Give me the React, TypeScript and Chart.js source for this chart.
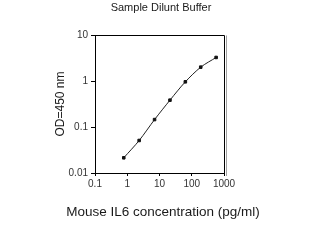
import React, { useEffect, useRef } from "react";
import { Chart, registerables } from "chart.js";

Chart.register(...registerables);

const concentrations = [0.78, 2.34, 7.03, 21.1, 63.3, 190, 570];
const odValues = [0.0214, 0.0509, 0.145, 0.383, 0.96, 2.0, 3.25];
const xTickValues = [0.1, 1, 10, 100, 1000];
const yTickValues = [0.01, 0.1, 1, 10];
const chartTitle = "Sample Dilunt Buffer";
const xTitle = "Mouse IL6 concentration (pg/ml)";
const yTitle = "OD=450 nm";

const FONT = "'Liberation Sans', Arial, sans-serif";

const decorPlugin = {
  id: "decor",
  afterDraw(chart: any) {
    const { ctx, chartArea } = chart;
    const { left, right, top, bottom } = chartArea;
    ctx.save();
    ctx.strokeStyle = "#000";
    ctx.lineWidth = 1;
    ctx.beginPath();
    ctx.moveTo(left + 0.5, top + 0.5);
    ctx.lineTo(right + 0.5, top + 0.5);
    ctx.moveTo(right + 0.5, top + 0.5);
    ctx.lineTo(right + 0.5, bottom + 3);
    ctx.stroke();
    ctx.strokeStyle = "#a0a0a0";
    ctx.beginPath();
    ctx.moveTo(right + 2.5, top + 0.5);
    ctx.lineTo(right + 2.5, bottom + 3);
    ctx.stroke();
    ctx.fillStyle = "#1a1a1a";
    ctx.textAlign = "center";
    ctx.textBaseline = "middle";
    ctx.font = `11px ${FONT}`;
    ctx.fillText(chartTitle, 161, 8);
    ctx.font = `13.5px ${FONT}`;
    ctx.fillText(xTitle, 163, 212);
    ctx.translate(61, 104);
    ctx.rotate(-Math.PI / 2);
    ctx.font = `12px ${FONT}`;
    ctx.fillText(yTitle, 0, 0);
    ctx.restore();
  },
};

export default function App() {
  const ref = useRef<HTMLCanvasElement>(null);
  useEffect(() => {
    if (!ref.current) return;
    const chart = new Chart(ref.current, {
      type: "scatter",
      data: {
        datasets: [
          {
            data: concentrations.map((x, i) => ({ x, y: odValues[i] })),
            showLine: true,
            tension: 0.3,
            borderColor: "#222",
            borderWidth: 1,
            backgroundColor: "#111",
            pointBackgroundColor: "#111",
            pointBorderColor: "#111",
            pointRadius: 1.8,
            pointStyle: "rect",
          },
        ],
      },
      options: {
        responsive: false,
        animation: false,
        layout: { padding: { left: 0, right: 91, top: 35, bottom: 0 } },
        plugins: { legend: { display: false }, tooltip: { enabled: false }, title: { display: false } },
        scales: {
          x: {
            type: "logarithmic",
            min: 0.1,
            max: 1000,
            afterBuildTicks: (s: any) => {
              s.ticks = xTickValues.map((v) => ({ value: v }));
            },
            afterFit: (s: any) => {
              s.height = 73;
            },
            ticks: {
              autoSkip: false,
              maxRotation: 0,
              padding: 2,
              color: "#333",
              font: { family: FONT, size: 10 },
              callback: (v: any) => String(v),
            },
            grid: { drawOnChartArea: false, drawTicks: true, tickLength: 3, color: "#000" },
            border: { display: true, color: "#000", width: 1 },
          },
          y: {
            type: "logarithmic",
            min: 0.01,
            max: 10,
            afterBuildTicks: (s: any) => {
              s.ticks = yTickValues.map((v) => ({ value: v }));
            },
            afterFit: (s: any) => {
              s.width = 95;
            },
            ticks: {
              autoSkip: false,
              padding: 3,
              color: "#333",
              font: { family: FONT, size: 10 },
              callback: (v: any) => String(v),
            },
            grid: { drawOnChartArea: false, drawTicks: true, tickLength: 4, color: "#000" },
            border: { display: true, color: "#000", width: 1 },
          },
        },
      },
      plugins: [decorPlugin],
    });
    return () => chart.destroy();
  }, []);
  return (
    <div style={{ position: "fixed", left: 0, top: 0, width: 315, height: 246, background: "#fff" }}>
      <canvas ref={ref} width={315} height={246} style={{ display: "block" }} />
    </div>
  );
}
